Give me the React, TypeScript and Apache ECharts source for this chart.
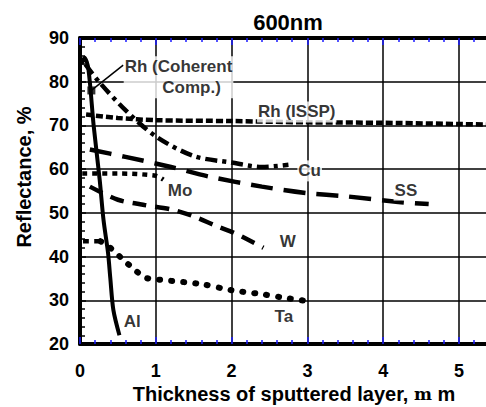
import React, { useEffect, useRef } from "react";
import * as echarts from "echarts";

const xTicks = [0, 1, 2, 3, 4, 5];
const yTicks = [20, 30, 40, 50, 60, 70, 80, 90];

const alData: [number, number][] = [
  [0.02, 84], [0.06, 85.5], [0.11, 83], [0.18, 70], [0.26, 57.5], [0.31, 48.4],
  [0.37, 40.8], [0.4, 35], [0.44, 27.8], [0.52, 22],
];
const cuData: [number, number][] = [
  [0.07, 84], [0.25, 80], [0.6, 73.5], [1.0, 67.5], [1.5, 63], [2.0, 61.5],
  [2.4, 60.5], [2.75, 61],
];
const rhIsspData: [number, number][] = [
  [0.08, 72.5], [0.5, 71.7], [1.0, 71.2], [2.0, 71], [3.0, 70.7], [4.0, 70.6], [5.4, 70.2],
];
const ssData: [number, number][] = [
  [0.13, 64.5], [0.6, 62.8], [1.2, 60.5], [1.7, 58.3], [2.4, 56], [3.0, 54.5],
  [3.5, 53.8], [4.2, 52.5], [4.6, 52],
];
const moData: [number, number][] = [
  [0.03, 59], [0.5, 59], [1.0, 58.5], [1.1, 57.6],
];
const wData: [number, number][] = [
  [0.13, 56], [0.5, 53], [0.85, 51.8], [1.2, 50.8], [1.5, 49.2], [1.8, 47],
  [2.05, 45.3], [2.42, 42],
];
const taHeadData: [number, number][] = [
  [0.04, 43.5], [0.27, 43.5],
];
const taData: [number, number][] = [
  [0.27, 43.5], [0.4, 42], [0.55, 39.6], [0.7, 37.3], [0.86, 35.2],
  [1.0, 34.8], [1.6, 33.7], [2.0, 32.3], [2.4, 31.4], [2.65, 30.7], [3.0, 29.8],
];
const rhCoherentPoint: [number, number][] = [[0.15, 78]];
const rhArrow: [number, number][] = [[0.15, 78], [0.57, 83.8]];

const labelNames = ["{a|Rh (Coherent}\n{b|Comp.)}", "Rh (ISSP)", "Cu", "SS", "Mo", "W", "Ta", "Al"];
const labelX = [1.3, 2.86, 3.03, 4.3, 1.32, 2.74, 2.69, 0.69];
const labelY = [81.0, 73.1, 59.6, 55.2, 55.2, 43.4, 26.2, 25.1];

const FONT = "Liberation Sans, Arial, Helvetica, sans-serif";

export default function App() {
  const ref = useRef<HTMLDivElement>(null);
  useEffect(() => {
    if (!ref.current) return;
    const chart = echarts.init(ref.current, undefined, { renderer: "svg" });
    const lineBase = (name: string, data: [number, number][], ls: any) => ({
      name,
      type: "line",
      data,
      showSymbol: false,
      symbol: "none",
      smooth: 0.3,
      lineStyle: { color: "#000", width: 4, ...ls },
      z: 3,
    });
    const xCommon = {
      type: "value",
      min: 0,
      max: 6,
      interval: 1,
    };
    const labelText = { fontFamily: FONT, fontSize: 17, fontWeight: "bold", color: "#000", lineHeight: 21 };
    chart.setOption({
      animation: false,
      backgroundColor: "#fff",
      title: {
        text: "600nm",
        left: 283,
        top: 6,
        textAlign: "center",
        textStyle: { fontFamily: FONT, fontSize: 22, fontWeight: "bold", color: "#000" },
      },
      grid: { left: 80, top: 38, width: 6 * 75.8, height: 306, outerBoundsMode: "none", containLabel: false },
      xAxis: [
        {
          ...xCommon,
          position: "bottom",
          axisLine: { show: true, lineStyle: { color: "#000", width: 4 } },
          axisTick: { show: true, inside: true, length: 7, lineStyle: { color: "#1a1aff", width: 1.5 } },
          minorTick: { show: true, splitNumber: 5, length: 4, lineStyle: { color: "#1a1aff", width: 1.5 } },
          splitLine: { show: true, lineStyle: { color: "#000", width: 1.5 } },
          axisLabel: {
            margin: 18,
            fontFamily: FONT,
            fontSize: 18,
            fontWeight: "bold",
            color: "#000",
            formatter: (v: number) => (xTicks.includes(v) ? String(v) : ""),
          },
        },
        {
          ...xCommon,
          position: "top",
          axisLine: { show: true, lineStyle: { color: "#000", width: 4 } },
          axisTick: { show: true, inside: true, length: 7, lineStyle: { color: "#1a1aff", width: 1.5 } },
          minorTick: { show: true, splitNumber: 5, length: 4, lineStyle: { color: "#1a1aff", width: 1.5 } },
          splitLine: { show: false },
          axisLabel: { show: false },
        },
      ],
      yAxis: {
        type: "value",
        min: 20,
        max: 90,
        interval: 10,
        axisLine: { show: true, lineStyle: { color: "#000", width: 4 } },
        axisTick: { show: true, inside: true, length: 6, lineStyle: { color: "#000", width: 1.5 } },
        minorTick: { show: true, splitNumber: 5, length: 5, lineStyle: { color: "#000", width: 1.5 } },
        splitLine: { show: true, lineStyle: { color: "#000", width: 1.5 } },
        axisLabel: {
          margin: 11,
          fontFamily: FONT,
          fontSize: 18,
          fontWeight: "bold",
          color: "#000",
          formatter: (v: number) => (yTicks.includes(v) ? String(v) : ""),
        },
      },
      graphic: [
        {
          type: "text",
          x: 24,
          y: 177,
          rotation: Math.PI / 2,
          style: {
            text: "Reflectance, %",
            font: `bold 20px ${FONT}`,
            fill: "#000",
            align: "center",
            verticalAlign: "middle",
          },
        },
        {
          type: "text",
          x: 294,
          y: 394,
          style: {
            text: "{a|Thickness of sputtered layer, }{b|m}{a| m}",
            align: "center",
            verticalAlign: "middle",
            rich: {
              a: { fontFamily: FONT, fontSize: 20, fontWeight: "bold", fill: "#000" },
              b: { fontFamily: "DejaVu Serif", fontSize: 17, fontWeight: "bold", fill: "#000" },
            },
          },
        },
      ],
      series: [
        lineBase("Rh (ISSP)", rhIsspData, { type: [7, 3], width: 4.5 }),
        lineBase("SS", ssData, { type: [22, 11], width: 4.5 }),
        lineBase("Mo", moData, { type: [5, 5], width: 4.5 }),
        lineBase("W", wData, { type: [14, 9], width: 4.5 }),
        lineBase("Ta head", taHeadData, { type: [6, 5], width: 4.5 }),
        lineBase("Ta", taData, { type: [1, 11], width: 6, cap: "round" }),
        lineBase("Cu", cuData, { type: [12, 5, 4, 5], width: 4.5 }),
        lineBase("Al", alData, { type: "solid", width: 4 }),
        {
          name: "arrow",
          type: "line",
          data: rhArrow,
          symbol: "none",
          lineStyle: { color: "#000", width: 1.5 },
          z: 4,
        },
        {
          name: "Rh (Coherent Comp.)",
          type: "scatter",
          data: rhCoherentPoint,
          symbol: "rect",
          symbolSize: 8,
          itemStyle: { color: "#000" },
          z: 5,
        },
        {
          name: "labels",
          type: "scatter",
          symbolSize: 1,
          itemStyle: { color: "transparent" },
          data: labelNames.map((n, i) => ({ name: n, value: [labelX[i], labelY[i]] })),
          label: {
            show: true,
            position: "inside",
            formatter: (p: any) => p.name,
            ...labelText,
            align: "center",
            backgroundColor: "#fff",
            padding: [0, 1],
            rich: {
              a: { ...labelText },
              b: { ...labelText, padding: [0, 0, 0, 26] },
            },
          },
          z: 6,
          silent: true,
        },
      ],
    });
    return () => chart.dispose();
  }, []);
  return (
    <div
      ref={ref}
      style={{ position: "absolute", left: 0, top: 0, width: 486, height: 407, overflow: "hidden" }}
    />
  );
}
